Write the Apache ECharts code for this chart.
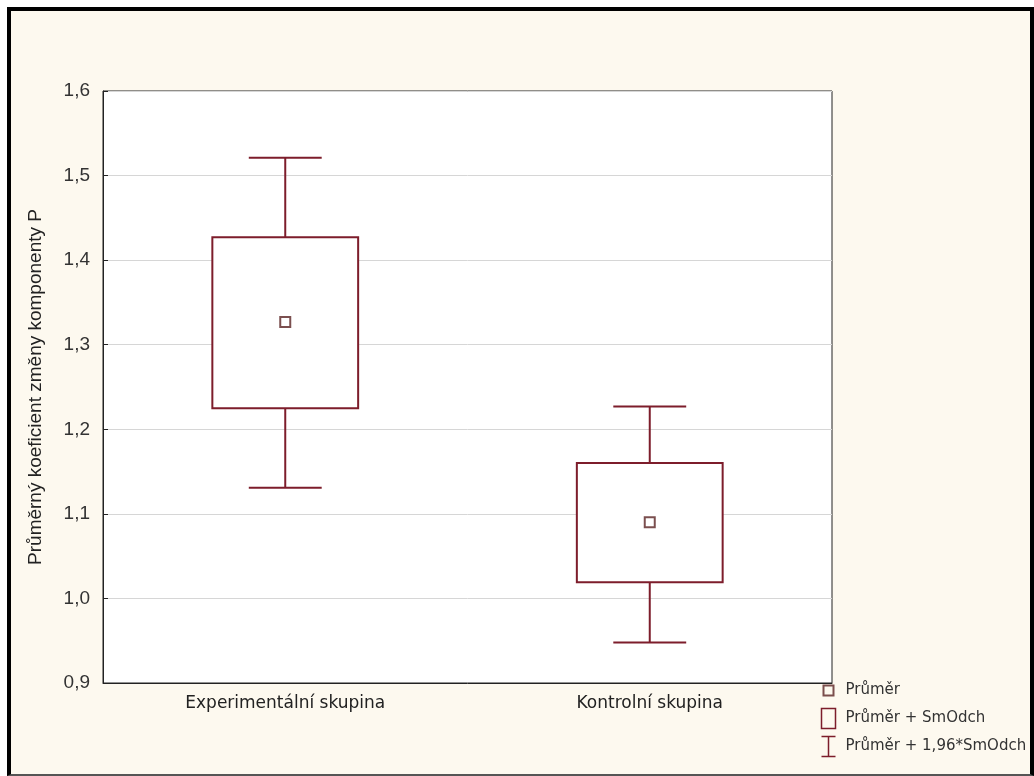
<!DOCTYPE html>
<html>
<head>
<meta charset="utf-8">
<script src="https://cdn.jsdelivr.net/npm/echarts@6/dist/echarts.min.js"></script>
<style>
    html, body { margin: 0; padding: 0; background: #fff; }
    #frame {
        position: absolute; left: 7px; top: 7px; width: 1027px; height: 769px;
        box-sizing: border-box; background: #fdf9ef;
        border: 4px solid #000; border-bottom: 2px solid #555;
    }
    #chart { position: absolute; left: 0; top: 0; width: 1034px; height: 776px; }
</style>
</head>
<body>
<div id="frame"></div>
<div id="chart"></div>
<script>
// skupiny
const categories = ['Experimentální skupina', 'Kontrolní skupina']
// průměr
const means = [1.327, 1.090]
// průměr +- SmOdch
const sdLow = [1.225, 1.019]
const sdHigh = [1.427, 1.160]
// průměr +- 1,96*SmOdch
const ciLow = [1.131, 0.948]
const ciHigh = [1.521, 1.227]
// osa y
const yTicks = ['0,9', '1,0', '1,1', '1,2', '1,3', '1,4', '1,5', '1,6']

const lineColor = '#7d1d2b'
const meanColor = '#5a2323'

var myChart = echarts.init(document.getElementById('chart'))

myChart.setOption({
    animation: false,
    backgroundColor: 'transparent',
    grid: {
        left: 103, top: 91, right: 202, bottom: 93,
        show: true, backgroundColor: '#fff', borderColor: '#222', borderWidth: 1
    },
    legend: {
        orient: 'vertical',
        left: 814, top: 677,
        width: 220, height: 100,
        padding: 0,
        itemWidth: 24, itemHeight: 22, itemGap: 1,
        selectedMode: false,
        textStyle: { fontFamily: 'DejaVu Sans', fontSize: 15, color: '#333' },
        data: [
            {
                name: 'Průměr',
                icon: 'path://M0 0M24 22M7 6h10v10h-10Z',
                itemStyle: { color: 'none', borderColor: meanColor, borderWidth: 2 }
            },
            {
                name: 'Průměr + SmOdch',
                icon: 'path://M0 0M24 22M5 1h14v20h-14Z',
                itemStyle: { color: 'none', borderColor: lineColor, borderWidth: 1.5 }
            },
            {
                name: 'Průměr + 1,96*SmOdch',
                icon: 'path://M0 0M24 22M5 1h14M12 1v20M5 21h14',
                itemStyle: { color: 'none', borderColor: lineColor, borderWidth: 1.5 }
            }
        ]
    },
    xAxis: {
        type: 'category',
        data: categories,
        boundaryGap: true,
        axisTick: { show: false },
        axisLine: { lineStyle: { color: '#222', width: 1 } },
        axisLabel: { fontFamily: 'DejaVu Sans', fontSize: 17, color: '#222', margin: 12 },
        splitLine: { show: false }
    },
    yAxis: {
        type: 'value',
        min: 0.9, max: 1.6, interval: 0.1,
        name: 'Průměrný koeficient změny komponenty P',
        nameLocation: 'middle',
        nameGap: 58,
        nameRotate: 90,
        nameTextStyle: { fontFamily: 'Liberation Sans', fontSize: 19, color: '#222' },
        axisLine: { show: true, lineStyle: { color: '#222', width: 1 } },
        axisTick: { show: true, inside: true, length: 5, lineStyle: { color: '#222' } },
        axisLabel: {
            fontFamily: 'Liberation Sans', fontSize: 19, color: '#333', margin: 13,
            formatter: (val) => yTicks[Math.round((val - 0.9) * 10)]
        },
        splitLine: { show: true, lineStyle: { color: '#d6d6d6', width: 1 } }
    },
    series: [
        {
            name: 'Průměr + 1,96*SmOdch',
            type: 'custom',
            itemStyle: { color: lineColor },
            encode: { x: 0, y: [1, 2, 3, 4] },
            data: categories.map((c, i) => [i, ciLow[i], sdLow[i], sdHigh[i], ciHigh[i]]),
            renderItem(params, api) {
                const i = api.value(0)
                const pLow = api.coord([i, api.value(1)])
                const pBoxLow = api.coord([i, api.value(2)])
                const pBoxHigh = api.coord([i, api.value(3)])
                const pHigh = api.coord([i, api.value(4)])
                const half = api.size([1, 0])[0] * 0.1
                const style = { stroke: lineColor, lineWidth: 2 }
                const x = pLow[0]
                return {
                    type: 'group',
                    children: [
                        { type: 'line', shape: { x1: x, y1: pHigh[1], x2: x, y2: pBoxHigh[1] }, style },
                        { type: 'line', shape: { x1: x, y1: pBoxLow[1], x2: x, y2: pLow[1] }, style },
                        { type: 'line', shape: { x1: x - half, y1: pHigh[1], x2: x + half, y2: pHigh[1] }, style },
                        { type: 'line', shape: { x1: x - half, y1: pLow[1], x2: x + half, y2: pLow[1] }, style }
                    ]
                }
            },
            z: 2
        },
        {
            name: 'Průměr + SmOdch',
            type: 'custom',
            itemStyle: { color: lineColor },
            encode: { x: 0, y: [1, 2] },
            data: categories.map((c, i) => [i, sdLow[i], sdHigh[i]]),
            renderItem(params, api) {
                const i = api.value(0)
                const low = api.coord([i, api.value(1)])
                const high = api.coord([i, api.value(2)])
                const w = api.size([1, 0])[0] * 0.4
                return {
                    type: 'rect',
                    shape: { x: low[0] - w / 2, y: high[1], width: w, height: low[1] - high[1] },
                    style: { fill: '#fff', stroke: lineColor, lineWidth: 2 }
                }
            },
            z: 3
        },
        {
            name: 'Průměr',
            type: 'scatter',
            symbol: 'rect',
            symbolSize: 10,
            itemStyle: { color: '#fff', borderColor: meanColor, borderWidth: 2 },
            data: categories.map((c, i) => [i, means[i]]),
            z: 4
        }
    ]
})
</script>
</body>
</html>
